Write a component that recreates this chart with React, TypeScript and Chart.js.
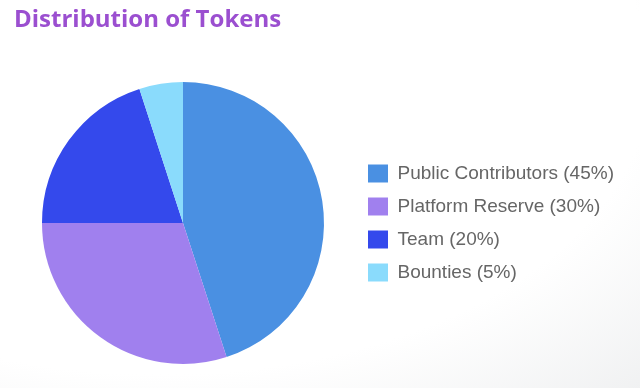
import React, { useEffect, useRef } from "react";
import { Chart, registerables } from "chart.js";

Chart.register(...registerables);

const title = "Distribution of Tokens";
const categories = ["Public Contributors", "Platform Reserve", "Team", "Bounties"];
const shares = [45, 30, 20, 5];
const colors = ["#4a90e2", "#a080ee", "#3449ec", "#8adbfc"];

const legendFontSize = 19;
const legendFontFamily = "'Helvetica Neue', Helvetica, Arial, sans-serif";

export default function App() {
  const ref = useRef<HTMLCanvasElement | null>(null);

  useEffect(() => {
    const canvas = ref.current;
    if (!canvas) return;
    const labels = categories.map((c, i) => `${c} (${shares[i]}%)`);

    const mctx = document.createElement("canvas").getContext("2d")!;
    mctx.font = `${legendFontSize}px ${legendFontFamily}`;
    const maxText = Math.max(...labels.map((l) => mctx.measureText(l).width));
    const pad = 14;
    const boxW = 20;
    const legendWidth = pad + boxW + legendFontSize / 2 + maxText + 10;
    const legendLeft = 354;
    const padRight = Math.max(0, 640 - legendLeft - legendWidth);

    const chart = new Chart(canvas, {
      type: "pie",
      data: {
        labels,
        datasets: [
          {
            data: shares,
            backgroundColor: colors,
            borderWidth: 0,
          },
        ],
      },
      options: {
        animation: false,
        responsive: false,
        maintainAspectRatio: false,
        layout: { padding: { top: 82, bottom: 24, left: 12, right: padRight } },
        plugins: {
          legend: {
            position: "right",
            labels: {
              boxWidth: boxW,
              boxHeight: 18,
              padding: pad,
              color: "#666",
              font: { size: legendFontSize, family: legendFontFamily },
            },
          },
          tooltip: { enabled: false },
        },
      },
    });
    return () => chart.destroy();
  }, []);

  return (
    <div
      style={{
        position: "fixed",
        left: 0,
        top: 0,
        width: 640,
        height: 388,
        background:
          "radial-gradient(ellipse 90% 90% at 25% 20%, #ffffff 85%, #eff0f1 125%)",
        overflow: "hidden",
      }}
    >
      <div
        style={{
          position: "absolute",
          left: 14,
          top: 2,
          fontFamily: "'Open Sans', sans-serif",
          fontWeight: 700,
          fontSize: 24,
          color: "#9b4fd0",
          lineHeight: "32px",
          whiteSpace: "nowrap",
        }}
      >
        {title}
      </div>
      <canvas
        ref={ref}
        width={640}
        height={388}
        style={{ position: "absolute", left: 0, top: 0, width: 640, height: 388 }}
      />
    </div>
  );
}
